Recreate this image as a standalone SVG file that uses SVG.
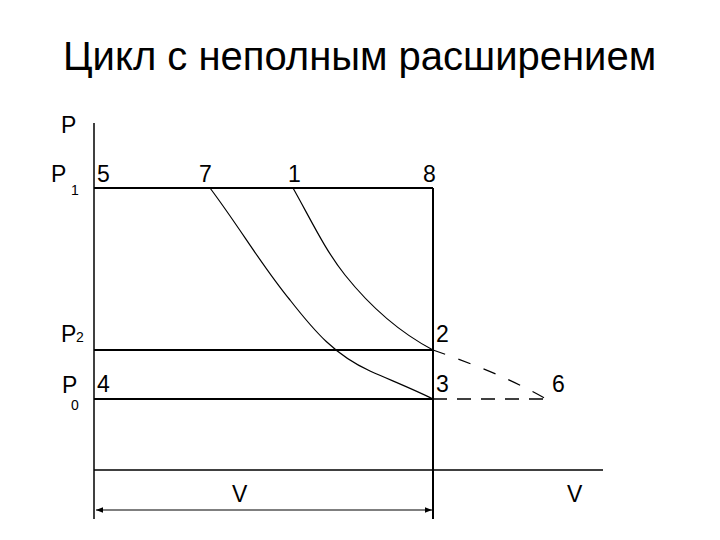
<svg xmlns="http://www.w3.org/2000/svg" width="720" height="540" viewBox="0 0 720 540">
<style>
.t{font-family:"Liberation Sans",Arial,sans-serif;fill:#000}
.lbl{font-size:23px}
.sub{font-size:14px}
.ln{stroke:#000;fill:none}
</style>
<defs>
<marker id="ar" viewBox="0 0 10 10" refX="10" refY="5" markerWidth="6" markerHeight="6" orient="auto-start-reverse">
<path d="M0,1 L10,5 L0,9 z" fill="#000"/>
</marker>
</defs>
<rect width="720" height="540" fill="#fff"/>
<text class="t" x="63" y="70" font-size="40">Цикл с неполным расширением</text>
<g id="axes">
<line class="ln" x1="94" y1="123" x2="94" y2="519" stroke-width="1.5"/>
<line class="ln" x1="94" y1="470" x2="603" y2="470" stroke-width="1.5"/>
</g>
<g id="connectors">
<line class="ln" x1="94" y1="188" x2="433" y2="188" stroke-width="2"/>
<line class="ln" x1="433" y1="188" x2="433" y2="519" stroke-width="2"/>
<line class="ln" x1="94" y1="350" x2="433" y2="350" stroke-width="2"/>
<line class="ln" x1="94" y1="399" x2="433" y2="399" stroke-width="2"/>
<path class="ln" d="M210,188 C240,228 262,266 290,300 C315,332 335,355 370,371 C395,382 415,390 433,399" stroke-width="1.2"/>
<path class="ln" d="M293,188 C310,218 325,250 345,275 C365,300 395,330 433,350" stroke-width="1.2"/>
<path class="ln" d="M433,350 C470,363 510,378 548,400" stroke-width="1.2" stroke-dasharray="13 14"/>
<line class="ln" x1="433" y1="399" x2="548" y2="399" stroke-width="1.5" stroke-dasharray="14 10"/>
<line class="ln" x1="96" y1="510" x2="432" y2="510" stroke-width="1.2" marker-start="url(#ar)" marker-end="url(#ar)"/>
</g>
<g id="labels">
<text class="t lbl" x="61" y="133">P</text>
<text class="t lbl" x="51" y="182">P</text><text class="t sub" x="71" y="195">1</text>
<text class="t lbl" x="61" y="342">P</text><text class="t sub" x="76" y="342">2</text>
<text class="t lbl" x="62" y="393">P</text><text class="t sub" x="71" y="410">0</text>
<text class="t lbl" x="97" y="182">5</text>
<text class="t lbl" x="97" y="392">4</text>
<text class="t lbl" x="199" y="182">7</text>
<text class="t lbl" x="288" y="182">1</text>
<text class="t lbl" x="423" y="182">8</text>
<text class="t lbl" x="436" y="342">2</text>
<text class="t lbl" x="436" y="392">3</text>
<text class="t lbl" x="552" y="392">6</text>
<text class="t lbl" x="232" y="502">V</text>
<text class="t lbl" x="567" y="502">V</text>
</g>
</svg>
